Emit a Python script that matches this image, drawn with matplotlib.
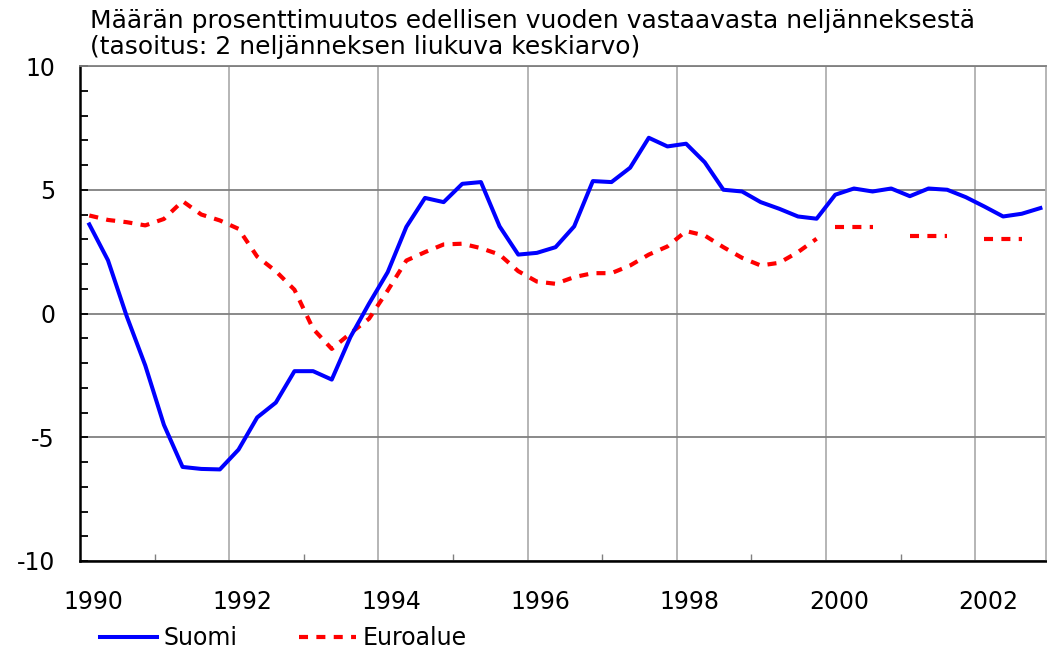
import numpy as np
import matplotlib
matplotlib.use("Agg")
import matplotlib.pyplot as plt
import matplotlib.transforms as mtransforms
from matplotlib.ticker import MultipleLocator

plt.rcParams["font.family"] = ["DejaVu Sans"]
plt.rcParams["lines.scale_dashes"] = False

# Quarterly data 1990Q1 - 2002Q4, plotted at the middle of each quarter
quarters = 1990 + (np.arange(52) + 0.5) / 4

suomi = [
    3.6, 2.15, -0.1, -2.1,
    -4.5, -6.2, -6.28, -6.3,
    -5.5, -4.2, -3.6, -2.33,
    -2.33, -2.67, -0.95, 0.4,
    1.67, 3.5, 4.67, 4.5,
    5.24, 5.31, 3.52, 2.38,
    2.45, 2.68, 3.52, 5.35,
    5.31, 5.89, 7.1, 6.75,
    6.86, 6.11, 5.0, 4.93,
    4.5, 4.23, 3.92, 3.83,
    4.8, 5.05, 4.93, 5.05,
    4.74, 5.05, 5.0, 4.7,
    4.32, 3.92, 4.03, 4.26,
]

# euro area: quarterly history to 1999, annual forecasts 2000-2002
euro_hist = [
    3.96, 3.78, 3.69, 3.56,
    3.82, 4.54, 4.0, 3.76,
    3.42, 2.3, 1.71, 0.96,
    -0.62, -1.43, -0.8, -0.21,
    0.93, 2.14, 2.48, 2.79,
    2.82, 2.64, 2.38, 1.71,
    1.29, 1.2, 1.47, 1.63,
    1.63, 1.94, 2.38, 2.71,
    3.33, 3.15, 2.68, 2.25,
    1.94, 2.05, 2.48, 3.02,
]
forecast_years = [2000, 2001, 2002]
euro_forecast = [3.5, 3.15, 3.0]

title = ("Määrän prosenttimuutos edellisen vuoden vastaavasta neljänneksestä\n"
         "(tasoitus: 2 neljänneksen liukuva keskiarvo)")

RED = "#ff0000"
BLUE = "#0000ff"
FS = 17

fig = plt.figure(figsize=(10.47, 6.53), dpi=100)
ax = fig.add_axes([80 / 1047, 1 - 561 / 653, 966 / 1047, 495 / 653])

n_hist = len(euro_hist)
ax.plot(quarters[:n_hist], euro_hist, color=RED, lw=3.0, dashes=(6.5, 6.0),
        label="Euroalue", zorder=3)
for yr, val in zip(forecast_years, euro_forecast):
    k = (yr - 1990) * 4
    xs = quarters[k:k + 3]
    ax.plot(xs, [val] * len(xs), color=RED, lw=3.0, dashes=(6.5, 6.0),
            zorder=3)

ax.plot(quarters, suomi, color=BLUE, lw=2.9, label="Suomi", zorder=4)

ax.set_xlim(1990, 2002.95)
ax.set_ylim(-10, 10)

ax.xaxis.set_major_locator(MultipleLocator(2))
ax.xaxis.set_minor_locator(MultipleLocator(1))
ax.yaxis.set_major_locator(MultipleLocator(5))
ax.yaxis.set_minor_locator(MultipleLocator(1))
ax.set_yticks([-10, -5, 0, 5, 10])
ax.set_yticklabels(["-10", "-5", "0", "5", "10"])

ax.grid(axis="x", which="major", color="#b0b0b0", lw=1.3)
ax.grid(axis="y", which="major", color="#808080", lw=1.3)
ax.tick_params(axis="x", which="major", length=0, pad=21, labelsize=FS)
ax.tick_params(axis="x", which="minor", direction="in", length=5,
               width=1, color="#808080")
ax.tick_params(axis="y", which="both", direction="in", length=6, width=1.3,
               pad=18, labelsize=FS)

# year labels sit a little to the right of the tick (Excel style)
shift = mtransforms.ScaledTranslation(13 / 100, 0, fig.dpi_scale_trans)
for lbl in ax.get_xticklabels():
    lbl.set_transform(lbl.get_transform() + shift)

for side in ("left", "bottom"):
    ax.spines[side].set_color("black")
    ax.spines[side].set_linewidth(1.8)
ax.spines["top"].set_color("#808080")
ax.spines["top"].set_linewidth(1.3)
ax.spines["right"].set_color("#b0b0b0")
ax.spines["right"].set_linewidth(1.3)

fig.text(90 / 1047, 1 - 9 / 653, title, fontsize=18, ha="left", va="top",
         linespacing=1.12)

handles, labels = ax.get_legend_handles_labels()
order = [1, 0]
leg = fig.legend([handles[i] for i in order], [labels[i] for i in order],
                 loc="center left", bbox_to_anchor=(100 / 1047, 1 - 638 / 653),
                 ncol=2, frameon=False, fontsize=FS, handlelength=2.4,
                 handletextpad=0.3, columnspacing=2.6, borderpad=0,
                 borderaxespad=0)

fig.savefig("out.png", dpi=100)
